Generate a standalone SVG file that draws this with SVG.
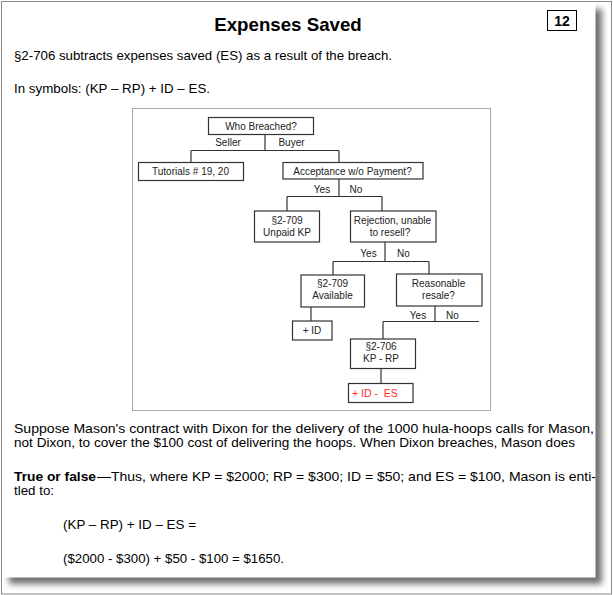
<svg xmlns="http://www.w3.org/2000/svg" width="613" height="595" viewBox="0 0 613 595">
<defs>
<filter id="shadow" x="-5%" y="-5%" width="110%" height="110%">
<feGaussianBlur stdDeviation="3"/>
</filter>
</defs>
<style>
.body{font-family:"Liberation Sans",Arial,sans-serif;font-size:12.8px;fill:#000}
.b{font-weight:bold}
.dt{font-family:"Liberation Sans",Arial,sans-serif;font-size:10px;fill:#222;text-anchor:middle}
.box{fill:#fff;stroke:#333;stroke-width:1.2}
.conn line{stroke:#333;stroke-width:1.2}
</style>
<rect x="0" y="0" width="613" height="595" fill="#fff"/>
<!-- page shadow -->
<rect x="9" y="9" width="593" height="575" fill="#707070" filter="url(#shadow)"/>
<rect x="1.5" y="1.5" width="594" height="576" fill="#fff"/>
<!-- outer border -->
<rect x="1.5" y="1.5" width="610" height="592.5" fill="none" stroke="#888" stroke-width="1"/>

<text class="body b" x="288" y="30.5" text-anchor="middle" textLength="147.5" lengthAdjust="spacingAndGlyphs" style="font-size:18.5px">Expenses Saved</text>
<g id="pagenum">
<rect x="547.5" y="10.5" width="29" height="20" fill="#fff" stroke="#000" stroke-width="1"/>
<text class="body b" x="562" y="26" text-anchor="middle" style="font-size:14px">12</text>
</g>

<text class="body" x="14" y="59.5" textLength="378" lengthAdjust="spacingAndGlyphs">§2-706 subtracts expenses saved (ES) as a result of the breach.</text>
<text class="body" x="14" y="93" textLength="196" lengthAdjust="spacingAndGlyphs">In symbols: (KP – RP) + ID – ES.</text>

<!-- diagram frame -->
<rect x="132.5" y="108.5" width="358" height="302" fill="#fff" stroke="#aaa" stroke-width="1"/>

<g class="conn" id="connectors">
<line x1="265" y1="134" x2="265" y2="150.5"/>
<line x1="191" y1="150.5" x2="339" y2="150.5"/>
<line x1="191" y1="150.5" x2="191" y2="162.5"/>
<line x1="339" y1="150.5" x2="339" y2="162.5"/>
<line x1="339" y1="179" x2="339" y2="196.5"/>
<line x1="287" y1="196.5" x2="382" y2="196.5"/>
<line x1="287" y1="196.5" x2="287" y2="211"/>
<line x1="382" y1="196.5" x2="382" y2="211"/>
<line x1="385" y1="242" x2="385" y2="261.5"/>
<line x1="333" y1="261.5" x2="429" y2="261.5"/>
<line x1="333" y1="261.5" x2="333" y2="275"/>
<line x1="429" y1="261.5" x2="429" y2="274"/>
<line x1="311" y1="307" x2="311" y2="321"/>
<line x1="435" y1="306" x2="435" y2="321.5"/>
<line x1="383" y1="321.5" x2="479" y2="321.5"/>
<line x1="383" y1="321.5" x2="383" y2="339"/>
<line x1="381" y1="368" x2="381" y2="383.5"/>
</g>

<g id="labels">
<text class="dt" x="228" y="146">Seller</text>
<text class="dt" x="291.5" y="146">Buyer</text>
<text class="dt" x="322" y="192.5">Yes</text>
<text class="dt" x="356" y="192.5">No</text>
<text class="dt" x="368.5" y="256.5">Yes</text>
<text class="dt" x="403.5" y="256.5">No</text>
<text class="dt" x="418" y="318.5">Yes</text>
<text class="dt" x="452.5" y="318.5">No</text>
</g>

<g id="n-who">
<rect class="box" x="208.5" y="117.5" width="105" height="17"/>
<text class="dt" x="261" y="130">Who Breached?</text>
</g>
<g id="n-tutorials">
<rect class="box" x="138.5" y="162.5" width="105" height="18"/>
<text class="dt" x="190.5" y="175">Tutorials # 19, 20</text>
</g>
<g id="n-acceptance">
<rect class="box" x="283" y="162.5" width="140" height="16.5"/>
<text class="dt" x="352.5" y="174.5">Acceptance w/o Payment?</text>
</g>
<g id="n-unpaid">
<rect class="box" x="254.5" y="211" width="65" height="31"/>
<text class="dt" x="287" y="223.5">§2-709</text>
<text class="dt" x="287" y="235.5">Unpaid KP</text>
</g>
<g id="n-rejection">
<rect class="box" x="350.5" y="211" width="85.5" height="31"/>
<text class="dt" x="392.5" y="224">Rejection, unable</text>
<text class="dt" x="390" y="236">to resell?</text>
</g>
<g id="n-available">
<rect class="box" x="301" y="275" width="63.5" height="32"/>
<text class="dt" x="332.5" y="287">§2-709</text>
<text class="dt" x="332.5" y="299">Available</text>
</g>
<g id="n-reasonable">
<rect class="box" x="396.5" y="274" width="85.5" height="32"/>
<text class="dt" x="438.5" y="287">Reasonable</text>
<text class="dt" x="438.5" y="299">resale?</text>
</g>
<g id="n-id">
<rect class="box" x="292.5" y="321" width="39.5" height="19"/>
<text class="dt" x="312" y="334">+ ID</text>
</g>
<g id="n-2706">
<rect class="box" x="350.5" y="339" width="65" height="29.5"/>
<text class="dt" x="381" y="350">§2-706</text>
<text class="dt" x="381" y="362">KP - RP</text>
</g>
<g id="n-ides">
<rect class="box" x="348.5" y="383.5" width="64.5" height="19"/>
<text x="352" y="396.5" style="font-family:'Liberation Sans',Arial,sans-serif;font-size:10.5px;fill:#ff2a2a" xml:space="preserve">+ ID -  ES</text>
</g>

<text class="body" x="14" y="432.5" textLength="580" lengthAdjust="spacingAndGlyphs">Suppose Mason's contract with Dixon for the delivery of the 1000 hula-hoops calls for Mason,</text>
<text class="body" x="14" y="447" textLength="561" lengthAdjust="spacingAndGlyphs">not Dixon, to cover the $100 cost of delivering the hoops. When Dixon breaches, Mason does</text>
<text class="body b" x="14" y="480.5" textLength="82" lengthAdjust="spacingAndGlyphs">True or false</text>
<text class="body" x="97" y="480.5" textLength="499" lengthAdjust="spacingAndGlyphs">—Thus, where KP = $2000; RP = $300; ID = $50; and ES = $100, Mason is enti-</text>
<text class="body" x="14" y="495" textLength="40" lengthAdjust="spacingAndGlyphs">tled to:</text>
<text class="body" x="63" y="528.5" textLength="133" lengthAdjust="spacingAndGlyphs">(KP – RP) + ID – ES =</text>
<text class="body" x="63" y="563" textLength="221" lengthAdjust="spacingAndGlyphs">($2000 - $300) + $50 - $100 = $1650.</text>
</svg>
